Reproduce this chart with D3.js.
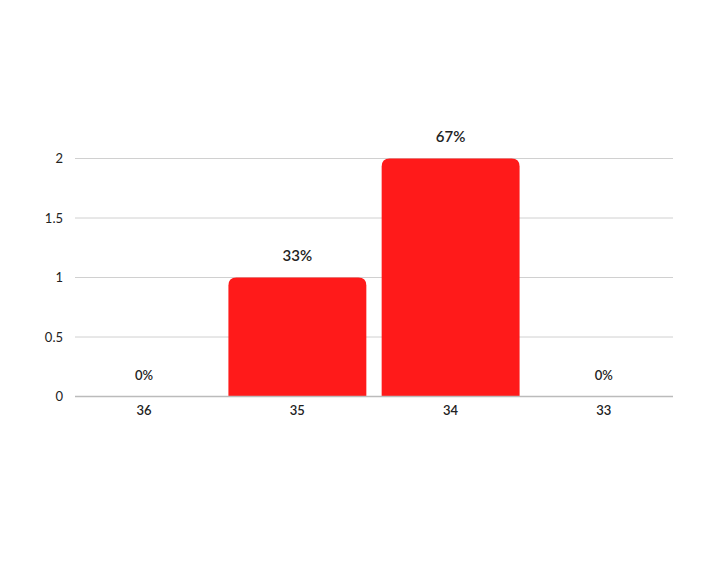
<!DOCTYPE html>
<html lang="en">
<head>
    <meta charset="UTF-8">
    <title>Bar chart</title>
    <script src="https://d3js.org/d3.v7.min.js"></script>
    <style>
        body { margin: 0; background: #fff; }
        svg { display: block; font-family: Lato, "Open Sans", sans-serif; }
    </style>
</head>
<body>
    <svg id="chart" width="722" height="568"></svg>
    <script>
        // Data
        const categories = ["36", "35", "34", "33"];
        const counts = [0, 1, 2, 0];
        const percents = ["0%", "33%", "67%", "0%"];
        const yTicks = [0, 0.5, 1, 1.5, 2];

        const svg = d3.select("#chart");
        const mLeft = 75, mRight = 673, mTop = 158.5, mBottom = 396.5;

        // band centres sit a little wider than the gridlines
        const x = d3.scaleBand().domain(categories).range([67.5, 680.5]).paddingInner(0.1).paddingOuter(0.05);
        const y = d3.scaleLinear().domain([0, 2]).range([mBottom, mTop]);

        const rows = categories.map((c, i) => ({ cat: c, count: counts[i], pct: percents[i] }));

        // Gridlines
        svg.append("g").selectAll("line").data(yTicks.filter(d => d > 0)).enter().append("line")
            .attr("x1", mLeft).attr("x2", mRight)
            .attr("y1", d => y(d)).attr("y2", d => y(d))
            .attr("stroke", "#d0d0d0").attr("stroke-width", 1);

        // Y axis labels
        const yAxis = svg.append("g").attr("transform", `translate(${mLeft},0)`)
            .call(d3.axisLeft(y).tickValues(yTicks).tickSize(0).tickPadding(12).tickFormat(d3.format("~g")));
        yAxis.select(".domain").remove();
        yAxis.selectAll("text").attr("font-size", 13).attr("fill", "#222").attr("font-family", "Lato, sans-serif");

        // Bars with rounded top corners
        const r = 8;
        function barPath(d) {
            const x0 = x(d.cat), w = x.bandwidth();
            const y0 = y(d.count), y1 = y(0);
            const rr = Math.min(r, (y1 - y0));
            return `M${x0},${y1}V${y0 + rr}Q${x0},${y0} ${x0 + rr},${y0}H${x0 + w - rr}Q${x0 + w},${y0} ${x0 + w},${y0 + rr}V${y1}Z`;
        }
        svg.append("g").selectAll("path").data(rows.filter(d => d.count > 0)).enter()
            .append("path")
            .attr("d", barPath)
            .attr("fill", "#ff1a1a");

        // X axis
        const xAxis = svg.append("g").attr("transform", `translate(0,${mBottom})`)
            .call(d3.axisBottom(x).tickSize(0).tickPadding(9));
        xAxis.select(".domain").attr("d", `M${mLeft},0H${mRight}`).attr("stroke", "#bbb").attr("stroke-width", 1.5);
        xAxis.selectAll("text").attr("font-size", 13).attr("fill", "#222").attr("font-weight", 600).attr("font-family", "Lato, sans-serif");

        // Percent labels
        svg.append("g").selectAll("text").data(rows).enter().append("text")
            .attr("x", d => x(d.cat) + x.bandwidth() / 2)
            .attr("y", d => y(d.count) - 17)
            .attr("text-anchor", "middle")
            .attr("font-size", d => d.count > 0 ? 15 : 13)
            .attr("font-weight", 600)
            .attr("fill", "#222")
            .text(d => d.pct);
    </script>
</body>
</html>
